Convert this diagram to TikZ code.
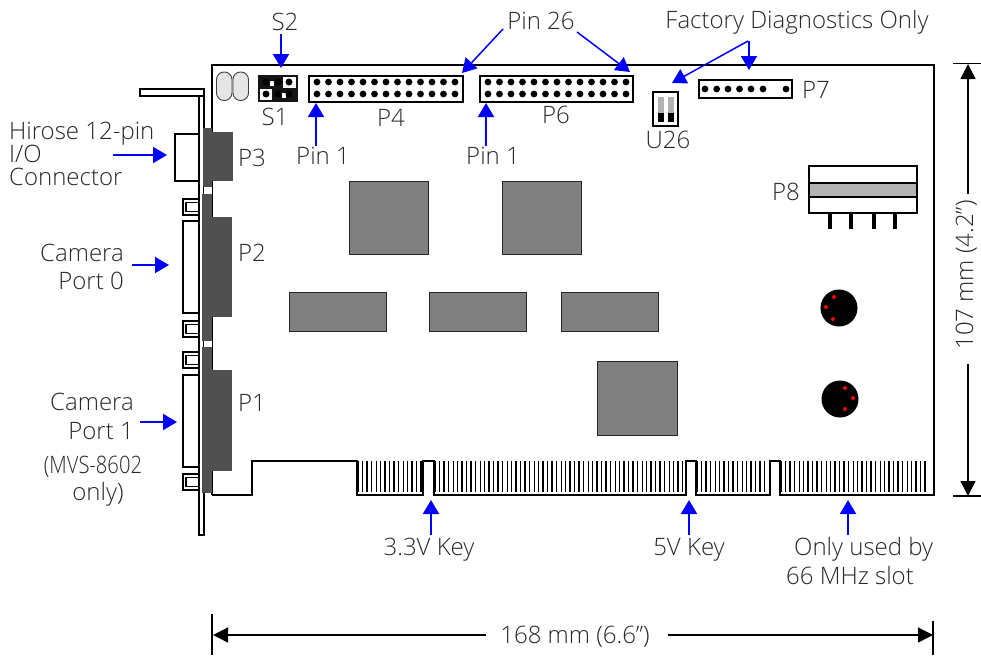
\documentclass[tikz,border=0pt]{standalone}
\usepackage{fontspec}
\usepackage{graphicx}
\setmainfont{Open Sans Light}
\usetikzlibrary{arrows.meta}
\definecolor{darkconn}{HTML}{505050}
\definecolor{chipgray}{HTML}{808080}
\definecolor{bandgray}{HTML}{B3B3B3}
\definecolor{ovalgray}{HTML}{E6E6E6}
\definecolor{txt}{HTML}{282828}
\tikzset{
  x=1pt,y=-1pt,
  outline/.style={draw=black,line width=2.2pt},
  chip/.style={draw=black!85,line width=1pt,fill=chipgray},
  dark/.style={fill=darkconn},
  pinfill/.style={fill=black},
  callout/.style={-{Triangle[length=14pt,width=16pt]},draw=blue,fill=blue,line width=2pt},
  dim/.style={-{Triangle[length=15pt,width=15pt]},draw=black,line width=1.3pt},
  lbl/.style={font=\fontsize{24}{24}\selectfont,text=txt,inner sep=0pt,anchor=base},
}
\begin{document}
\begin{tikzpicture}
\useasboundingbox (0,0) rectangle (981,656);
% bracket
\draw[outline,fill=white] (140,89) rectangle (204,96);
\draw[outline,fill=white] (199,96) rectangle (204,535);
% left shells
\draw[outline,fill=white] (175,134) rectangle (199,181);
\draw[outline,fill=white] (183,221) rectangle (199,313);
\draw[outline,fill=white] (183,375) rectangle (199,467);
\foreach \yy in {199,321,352,474}{
  \draw[outline,fill=white] (183,\yy) rectangle (199,\yy+16);
  \draw[black,line width=1.4pt] (186,\yy+3.5) rectangle (199,\yy+12.5);
}
% board outline
\draw[outline,line join=miter] (212,495) -- (212,65) -- (934,65) -- (934,495) -- (780,495) -- (780,461) -- (770,461) -- (770,495) -- (696,495) -- (696,461) -- (686,461) -- (686,495) -- (434,495) -- (434,461) -- (423,461) -- (423,495) -- (357,495) -- (357,461) -- (252,461) -- (252,495) -- (212,495);
% gold fingers
\foreach \aa/\bb in {358/422,435/685,697/769,781/925}{
  \pgfmathsetmacro{\nn}{int((\bb-\aa)/4.5)}
  \foreach \i in {0,...,\nn}{
    \pgfmathsetmacro{\xx}{\aa+\i*4.5}
    \pgfmathsetmacro{\ww}{mod(\i,3)==0?1.9:(mod(\i,3)==1?0.7:1.2)}
    \draw[black,line width=\ww pt] (\xx,461) -- (\xx,491.5);
  }
}
% dark connectors
\fill[dark] (203,128) rectangle (212,187);
\fill[dark] (212,132) rectangle (233,181);
\fill[white] (204,187) rectangle (212,194);
\fill[dark] (202,194) rectangle (212,341);
\fill[dark] (212,217) rectangle (232,317);
\fill[white] (204,341) rectangle (212,347);
\fill[dark] (202,347) rectangle (212,493);
\fill[dark] (212,370) rectangle (232,471);
% ovals
\draw[draw=black!75,line width=.9pt,fill=ovalgray,rounded corners=7.5pt] (216.5,72) rectangle (232,100.5);
\draw[draw=black!75,line width=.9pt,fill=ovalgray,rounded corners=7.5pt] (233,72) rectangle (248.5,100.5);
% S1
\fill[black!92] (258,75) rectangle (298,102);
\fill[white] (283,76.5) rectangle (296,87.5);
\fill[white] (260,88.5) rectangle (271.5,100);
\fill[white] (270,81) rectangle (274,85.5);
\fill[white] (281.5,93) rectangle (285.5,97.5);
\fill[black] (266,82) circle (3.5) (278,82) circle (3.5) (289,82) circle (3.5) (266,94) circle (3.5) (278,94) circle (3.5) (289,94) circle (3.5);
% P4, P6
\draw[outline] (309,76) rectangle (463,102);
\draw[outline] (480,76) rectangle (633,102);
\foreach \i in {0,...,12}{
  \fill[pinfill] (317+11.5*\i,82) circle[radius=3.4];
  \fill[pinfill] (317+11.5*\i,94) circle[radius=3.4];
  \fill[pinfill] (488+11.5*\i,82) circle[radius=3.4];
  \fill[pinfill] (488+11.5*\i,94) circle[radius=3.4];
}
% U26
\draw[outline] (653,92) rectangle (678,126);
\foreach \xx in {658,668}{
  \fill[bandgray] (\xx,97) rectangle (\xx+6,113);
  \fill[black] (\xx,113) rectangle (\xx+6,122);
}
% P7
\draw[outline] (699,80) rectangle (792,98);
\foreach \xx in {705,716.7,728,739.5,751,763,786}{ \fill[pinfill] (\xx,89) circle[radius=3.4]; }
% P8
\draw[outline,fill=white] (809,166) rectangle (917,213);
\draw[outline,fill=bandgray] (809,183) rectangle (917,197);
\foreach \xx in {830,851,874,895}{ \draw[black,line width=3.6pt] (\xx,213) -- (\xx,229); }
% chips
\draw[chip] (349,181) rectangle (428,254);
\draw[chip] (502,181) rectangle (581,254);
\draw[chip] (289,292) rectangle (386,331);
\draw[chip] (429,292) rectangle (526,331);
\draw[chip] (561,292) rectangle (658,331);
\draw[chip] (597,361) rectangle (677,435);
% discs
\fill[black] (839,308) circle (18.5) (840,399) circle (18.5);
\fill[red] (834,297) circle (2) (826,307) circle (2) (833,319) circle (2);
\fill[red] (845,388) circle (2) (853,398) circle (2) (845,409) circle (2);
% labels
\node[lbl] (tS2) at (285,30) {S2};
\node[lbl] (tS1) at (275,125) {S1};
\node[lbl] (tP4) at (391,126) {P4};
\node[lbl] (tP6) at (556,123) {P6};
\node[lbl] (tP7) at (816,98) {P7};
\node[lbl] (tP8) at (786,200) {P8};
\node[lbl] (tP3) at (252,166) {P3};
\node[lbl] (tP2) at (252,261) {P2};
\node[lbl] (tP1) at (252,411) {P1};
\node[lbl] (tU) at (668,148) {U26};
\node[lbl] (tpin1a) at (323,164) {Pin 1};
\node[lbl] (tpin1b) at (493,164) {Pin 1};
\node[lbl] (tpin26) at (541,29) {Pin 26};
\node[lbl] (tfac) at (797,28) {Factory Diagnostics Only};
\node[lbl,align=left,anchor=base west] (thir) at (9,185) {Hirose 12-pin\\[-1pt]I/O\\[-1pt]Connector};
\node[lbl,align=right,anchor=base east] (tcam0) at (124,289) {Camera\\[4pt]Port 0};
\node[lbl,align=right,anchor=base east] (tcam1) at (134,439) {Camera\\[5pt]Port 1};
\node[lbl,align=center] (tmvs) at (93,500) {\scalebox{.84}[1]{(MVS-8602}\\[3pt]\hspace*{10pt}only)};
\node[lbl] (tk3) at (429,555) {3.3V Key};
\node[lbl] (tk5) at (689,555) {5V Key};
\node[lbl,align=left,anchor=base west] (tonly) at (786,584) {\hspace*{8pt}Only used by\\[5pt]66 MHz slot};
\node[lbl,rotate=90] (t107) at (973,275) {107 mm (4.2”)};
\node[lbl] (t168) at (575,643) {168 mm (6.6”)};
% callout arrows
\coordinate (s2a) at (281,34); \coordinate (s2b) at (281,68);
\coordinate (p1aa) at (316,146); \coordinate (p1ab) at (316,103);
\coordinate (p1ba) at (486,146); \coordinate (p1bb) at (486,103);
\coordinate (p26a) at (503,29); \coordinate (p26ab) at (462,73);
\coordinate (p26b) at (577,32); \coordinate (p26bb) at (630,72);
\coordinate (faca) at (748,41); \coordinate (facab) at (672,83);
\coordinate (facb) at (749,41); \coordinate (facbb) at (749,70);
\coordinate (hira) at (113,155); \coordinate (hirb) at (167,155);
\coordinate (c0a) at (132,265); \coordinate (c0b) at (169,265);
\coordinate (c1a) at (140,422); \coordinate (c1b) at (177,422);
\coordinate (k3a) at (431,535); \coordinate (k3b) at (431,500);
\coordinate (k5a) at (689,535); \coordinate (k5b) at (689,500);
\coordinate (koa) at (848,535); \coordinate (kob) at (848,500);
\foreach \aa/\bb in {s2a/s2b,p1aa/p1ab,p1ba/p1bb,hira/hirb,c0a/c0b,c1a/c1b,k3a/k3b,k5a/k5b,koa/kob,facb/facbb}{
  \draw[callout] (\aa) -- (\bb);
}
\foreach \aa/\bb in {p26a/p26ab,p26b/p26bb,faca/facab}{
  \draw[callout,line width=1.5pt] (\aa) -- (\bb);
}
% dimensions
\coordinate (dv1) at (968,194); \coordinate (dv1b) at (968,64);
\coordinate (dv2) at (968,364); \coordinate (dv2b) at (968,496);
\coordinate (dh1) at (486,635); \coordinate (dh1b) at (213,635);
\coordinate (dh2) at (668,635); \coordinate (dh2b) at (933,635);
\draw[dim] (dv1) -- (dv1b);
\draw[dim] (dv2) -- (dv2b);
\draw[dim] (dh1) -- (dh1b);
\draw[dim] (dh2) -- (dh2b);
\draw[black,line width=1.2pt] (953,63.5) -- (981,63.5) (953,496) -- (981,496);
\draw[black,line width=1.2pt] (212,614) -- (212,655) (933,621) -- (933,655);
\end{tikzpicture}
\end{document}
